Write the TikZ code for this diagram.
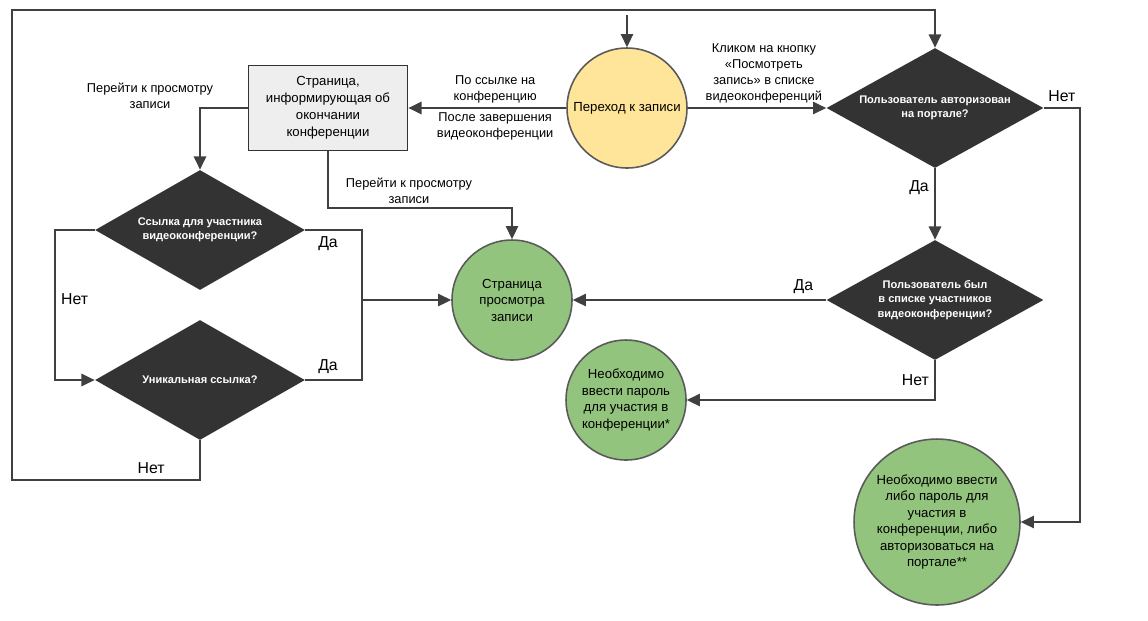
\documentclass[tikz,border=0pt]{standalone}
\usepackage{fontspec}
\setmainfont{Liberation Sans}
\usetikzlibrary{shapes.geometric,arrows.meta}
\definecolor{darkbox}{HTML}{333333}
\definecolor{linegray}{HTML}{404040}
\definecolor{rimgray}{HTML}{5A5A5A}
\definecolor{startyellow}{HTML}{FFE599}
\definecolor{endgreen}{HTML}{93C47D}
\definecolor{pagegray}{HTML}{EEEEEE}
\tikzset{
    decision/.style={diamond, aspect=1.8, fill=darkbox, text=white, inner sep=0pt,
        font=\bfseries\fontsize{6.3}{8.1}\selectfont, align=center,
        minimum width=4.34cm, minimum height=2.4cm},
    roundnode/.style={circle, draw=rimgray, line width=0.9pt, inner sep=0pt,
        font=\fontsize{7.5}{9.4}\selectfont, align=center},
    pagebox/.style={rectangle, draw=darkbox, fill=pagegray, line width=1pt,
        minimum width=3.18cm, minimum height=1.7cm,
        font=\fontsize{7.5}{9.6}\selectfont, align=center},
    edgetext/.style={font=\fontsize{7.3}{9.2}\selectfont, align=center, inner sep=2pt},
    answer/.style={font=\fontsize{9}{10}\selectfont, inner sep=3pt},
    flow/.style={draw=linegray, line width=1.1pt, -{Triangle[length=7.5pt,width=7pt]}},
    plain/.style={draw=linegray, line width=1.1pt}
}
\begin{document}
\begin{tikzpicture}[x=0.02cm, y=-0.02cm]
    \useasboundingbox (0,0) rectangle (1148,620);

    \node[roundnode, fill=startyellow, minimum size=2.4cm] at (627,108) (start) {Переход к записи};
    \node[pagebox] at (328,108) (endpage) {Страница,\\информирующая об\\окончании\\конференции};
    \node[decision] at (935,108) (auth) {Пользователь авторизован\\на портале?};
    \node[decision] at (935,300) (member) {Пользователь был\\в списке участников\\видеоконференции?};
    \node[decision, minimum width=4.2cm] at (200,230) (participant) {Ссылка для участника\\видеоконференции?};
    \node[decision, minimum width=4.2cm] at (200,380) (unique) {Уникальная ссылка?};
    \node[roundnode, fill=endgreen, minimum size=2.4cm] at (512,300) (viewpage) {Страница\\просмотра\\записи};
    \node[roundnode, fill=endgreen, minimum size=2.4cm] at (626,400) (pwdend) {Необходимо\\ввести пароль\\для участия в\\конференции*};
    \node[roundnode, fill=endgreen, minimum size=3.32cm] at (937,522) (bigend) {Необходимо ввести\\либо пароль для\\участия в\\конференции, либо\\авторизоваться на\\портале**};

    \coordinate (entry) at (627,15);
    \coordinate (loopbl) at (12,480);
    \coordinate (looptl) at (12,10);
    \coordinate (rightrail) at (1080,108);
    \coordinate (viewjog) at (512,208);
    \coordinate (leftrail) at (55,230);
    \coordinate (joinpt) at (362,300);

    \node[edgetext] at (150,96) (gotoleft) {Перейти к просмотру\\записи};

    \draw[flow] (entry) -- (start);
    \draw[flow] (start) -- node[edgetext, above, pos=0.45] {По ссылке на\\конференцию}
        node[edgetext, below, pos=0.45] {После завершения\\видеоконференции} (endpage);
    \draw[flow] (start) -- node[edgetext, above, pos=0.55] {Кликом на кнопку\\«Посмотреть\\запись» в списке\\видеоконференций} (auth);
    \draw[flow] (auth) -- node[answer, left, pos=0.27] {Да} (member);
    \draw[flow] (auth) -- node[answer, above] {Нет} (rightrail) |- (bigend);
    \draw[flow] (member) -- node[answer, above, pos=0.09] {Да} (viewpage);
    \draw[flow] (member) |- node[answer, left, pos=0.25] {Нет} (pwdend);
    \draw[flow] (endpage) |- node[edgetext, above, pos=0.72] {Перейти к просмотру\\записи} (viewjog) -- (viewpage);
    \draw[flow] (endpage) -| (participant);
    \draw[flow] (participant) -- (leftrail) |- node[answer, right, pos=0.23] {Нет} (unique);
    \draw[plain] (participant) -| node[answer, below, pos=0.2] {Да} (joinpt);
    \draw[plain] (unique) -| node[answer, above, pos=0.2] {Да} (joinpt);
    \draw[flow] (joinpt) -- (viewpage);
    \draw[flow] (unique) |- node[answer, above, pos=0.63] {Нет} (loopbl) -- (looptl) -| (auth);
\end{tikzpicture}
\end{document}
